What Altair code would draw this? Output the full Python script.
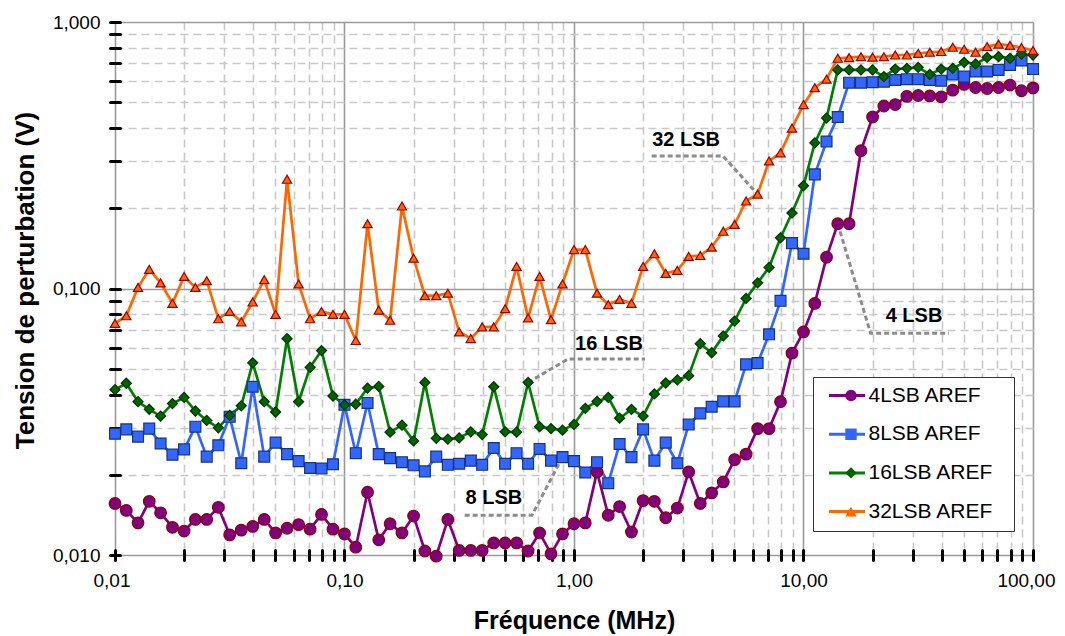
import altair as alt
import pandas as pd

FONT = "Liberation Sans"

series_names = ["4LSB AREF", "8LSB AREF", "16LSB AREF", "32LSB AREF"]
line_colors = ["#800080", "#3366FF", "#008000", "#FF6600"]
fill_colors = ["#800080", "#3366FF", "#006400", "#FF6600"]
edge_colors = ["#8B0000", "#17357a", "#003300", "#990000"]
shapes = ["circle", "square", "diamond", "triangle-up"]
sizes = [135, 85, 130, 140]

# separate keys so that each guide keeps its own legend
line_keys = [n + "\u200b" for n in series_names]
size_keys = ["m4", "m8", "m16", "m32"]

# 20 measurement points per decade
mantissas = [1.00, 1.12, 1.26, 1.41, 1.58, 1.78, 2.00, 2.24, 2.51, 2.82,
             3.16, 3.55, 3.98, 4.47, 5.01, 5.62, 6.31, 7.08, 7.94, 8.91]
decades = [0.01, 0.1, 1, 10]
freq = [round(m * d, 6) for d in decades for m in mantissas] + [100.0]

v4 = [0.0156, 0.0147, 0.0132, 0.0159, 0.0144, 0.0127, 0.0123, 0.0136, 0.0136, 0.0151,
      0.0119, 0.0124, 0.0128, 0.0136, 0.0121, 0.0126, 0.0130, 0.0125, 0.0142, 0.0125,
      0.0120, 0.0107, 0.0172, 0.0114, 0.0131, 0.0121, 0.0140, 0.01035, 0.0099, 0.0136,
      0.0104, 0.0104, 0.0104, 0.0111, 0.0111, 0.0111, 0.01035, 0.0121, 0.0101, 0.0120,
      0.0131, 0.0132, 0.0205, 0.0141, 0.0152, 0.0122, 0.0160, 0.0159, 0.0138, 0.0150,
      0.0205, 0.0156, 0.0171, 0.0188, 0.0228, 0.0239, 0.0298, 0.0298, 0.0376, 0.0572,
      0.0687, 0.0879, 0.131, 0.175, 0.175, 0.329, 0.440, 0.484, 0.490, 0.526,
      0.530, 0.528, 0.524, 0.555, 0.583, 0.568, 0.563, 0.568, 0.580, 0.552, 0.566]

v8 = [0.0285, 0.0296, 0.0278, 0.0298, 0.0262, 0.0238, 0.0249, 0.0303, 0.0234, 0.0258,
      0.0330, 0.0221, 0.0428, 0.0234, 0.0264, 0.0239, 0.0225, 0.0212, 0.0211, 0.0219,
      0.0366, 0.0241, 0.0372, 0.0239, 0.0231, 0.0223, 0.0217, 0.0206, 0.0234, 0.0218,
      0.0220, 0.0226, 0.0218, 0.0252, 0.0220, 0.0241, 0.0220, 0.0250, 0.0226, 0.0233,
      0.0225, 0.0204, 0.0223, 0.0186, 0.0261, 0.0233, 0.0296, 0.0226, 0.0264, 0.0221,
      0.0309, 0.0340, 0.0360, 0.0377, 0.0377, 0.0519, 0.0525, 0.0673, 0.0899, 0.148,
      0.135, 0.268, 0.356, 0.440, 0.592, 0.592, 0.594, 0.597, 0.606, 0.610,
      0.610, 0.606, 0.602, 0.636, 0.624, 0.652, 0.652, 0.661, 0.690, 0.717, 0.666]

v16 = [0.0417, 0.0441, 0.0376, 0.0352, 0.0332, 0.0370, 0.0390, 0.0347, 0.0320, 0.0300,
       0.0334, 0.0363, 0.0526, 0.0376, 0.0344, 0.0648, 0.0376, 0.0506, 0.0585, 0.0395,
       0.0366, 0.0368, 0.0423, 0.0429, 0.0289, 0.0307, 0.0268, 0.0444, 0.0274, 0.0272,
       0.0275, 0.0290, 0.0283, 0.0428, 0.0290, 0.0289, 0.0444, 0.0303, 0.0298, 0.0294,
       0.0309, 0.0355, 0.0377, 0.0390, 0.0326, 0.0352, 0.0332, 0.0402, 0.0442, 0.0454,
       0.0471, 0.0621, 0.0574, 0.0664, 0.0755, 0.0918, 0.105, 0.120, 0.155, 0.192,
       0.243, 0.352, 0.436, 0.661, 0.661, 0.661, 0.661, 0.624, 0.666, 0.670,
       0.676, 0.636, 0.666, 0.670, 0.706, 0.696, 0.736, 0.741, 0.731, 0.757, 0.752]

v32 = [0.074, 0.079, 0.101, 0.118, 0.105, 0.088, 0.111, 0.101, 0.107, 0.077,
       0.082, 0.075, 0.089, 0.108, 0.080, 0.257, 0.104, 0.077, 0.082, 0.080,
       0.080, 0.0638, 0.175, 0.083, 0.076, 0.204, 0.130, 0.094, 0.094, 0.096,
       0.0687, 0.0649, 0.0718, 0.0718, 0.084, 0.121, 0.0776, 0.111, 0.0764, 0.104,
       0.140, 0.140, 0.096, 0.087, 0.091, 0.088, 0.121, 0.135, 0.114, 0.117,
       0.132, 0.133, 0.143, 0.164, 0.174, 0.213, 0.226, 0.301, 0.323, 0.400,
       0.490, 0.567, 0.610, 0.731, 0.735, 0.741, 0.738, 0.741, 0.752, 0.752,
       0.763, 0.770, 0.775, 0.804, 0.790, 0.770, 0.809, 0.826, 0.817, 0.802, 0.782]

# annotation labels and their dashed leader lines (data coordinates)
ann_labels = ["32 LSB", "16 LSB", "8 LSB", "4 LSB"]
ann_x = [3.08, 1.42, 0.448, 30.3]
ann_y = [0.361, 0.0619, 0.01637, 0.0788]
conn_group = ["32", "32", "32", "16", "16", "16", "8", "8", "8", "4", "4", "4"]
conn_x = [2.18, 4.46, 6.31, 0.631, 0.942, 2.04, 0.891, 0.656, 0.328, 14.1, 19.6, 43.0]
conn_y = [0.314, 0.314, 0.226, 0.0444, 0.0544, 0.0544, 0.0233, 0.0141, 0.0141, 0.175, 0.0679, 0.0679]

x_ticks = [round(m * d, 6) for d in [0.01, 0.1, 1, 10] for m in range(1, 10)] + [100.0]
y_ticks = [round(m * d, 6) for d in [0.01, 0.1] for m in range(1, 10)] + [1.0]

rows = []
for name, lk, sk, vals in zip(series_names, line_keys, size_keys, [v4, v8, v16, v32]):
    for f, v in zip(freq, vals):
        rows.append({"f": f, "v": v, "s": name, "k": lk, "z": sk})
df = pd.DataFrame(rows)

ann_df = pd.DataFrame({"f": ann_x, "v": ann_y, "t": ann_labels})
conn_df = pd.DataFrame({"f": conn_x, "v": conn_y, "g": conn_group,
                        "o": list(range(len(conn_x)))})

DEC = "abs(log(datum.value)/LN10 - round(log(datum.value)/LN10)) < 1e-6"

xscale = alt.Scale(type="log", domain=[0.01, 100], nice=False)
yscale = alt.Scale(type="log", domain=[0.01, 1], nice=False)

# axes sit 5px inside the frame with 10px ticks so that ticks cross the frame line
x_main = alt.Axis(
    orient="bottom", values=x_ticks, offset=-5,
    labelExpr=f"({DEC}) ? replace(format(datum.value, '.2f'), '.', ',') : ''",
    labelFont=FONT, labelFontSize=19, labelColor="black", labelPadding=11,
    labelOverlap=False, labelBound=False, labelFlush=True, labelFlushOffset=22,
    tickSize=10, tickWidth=3, tickColor="black", tickCap="round",
    domain=False, grid=True,
    gridColor={"condition": {"test": DEC, "value": "#9a9a9a"}, "value": "#c8c8c8"},
    gridDash={"condition": {"test": DEC, "value": []}, "value": [8, 5]},
    gridWidth=1.6,
    title="Fréquence (MHz)", titleFont=FONT, titleFontSize=25, titleFontWeight="bold",
    titleColor="black", titleX=459, titleY=78, titleAlign="center",
    titleBaseline="alphabetic",
)
y_main = alt.Axis(
    orient="left", values=y_ticks, offset=-5,
    labelExpr=f"({DEC}) ? replace(format(datum.value, '.3f'), '.', ',') : ''",
    labelFont=FONT, labelFontSize=19, labelColor="black", labelPadding=10,
    labelOverlap=False, labelBound=False,
    tickSize=10, tickWidth=3, tickColor="black", tickCap="round",
    domain=False, grid=True,
    gridColor={"condition": {"test": DEC, "value": "#9a9a9a"}, "value": "#c8c8c8"},
    gridDash={"condition": {"test": DEC, "value": []}, "value": [8, 5]},
    gridWidth=1.6,
    title="Tension de perturbation (V)", titleFont=FONT, titleFontSize=26,
    titleFontWeight="bold", titleColor="black", titleX=-95, titleY=258,
    titleAngle=270, titleAlign="center", titleBaseline="middle",
)

LEG_X, LEG_Y = 698, 355
# line swatches (no labels, framed box) underneath the marker legend
line_legend = alt.Legend(
    orient="none", legendX=LEG_X, legendY=LEG_Y, title=None, zindex=1,
    labelFont=FONT, labelFontSize=21, labelColor="black", labelExpr="''",
    padding=8, rowPadding=16.7, clipHeight=21,
    symbolType="stroke", symbolSize=1296, symbolStrokeWidth=3,
    symbolOffset=6.5, labelOffset=139,
    fillColor="white", strokeColor="#333333",
)
pt_legend = alt.Legend(
    orient="none", legendX=LEG_X, legendY=LEG_Y, title=None, zindex=2,
    labelFont=FONT, labelFontSize=21, labelColor="black",
    padding=8, rowPadding=16.7, clipHeight=21,
    symbolSize=130, symbolStrokeWidth=1.2, symbolStrokeColor="#4a0000",
    symbolOffset=19.5, labelOffset=7,
)

lines = alt.Chart(df).mark_line(strokeWidth=2.7).encode(
    x=alt.X("f:Q", scale=xscale, axis=x_main),
    y=alt.Y("v:Q", scale=yscale, axis=y_main),
    stroke=alt.Stroke("k:N", scale=alt.Scale(domain=line_keys, range=line_colors),
                      legend=line_legend),
    order=alt.Order("f:Q"),
)

points = alt.Chart(df).mark_point(filled=True, opacity=1, strokeWidth=1.2).encode(
    x=alt.X("f:Q", scale=xscale),
    y=alt.Y("v:Q", scale=yscale),
    fill=alt.Fill("s:N", scale=alt.Scale(domain=series_names, range=fill_colors),
                  legend=pt_legend),
    shape=alt.Shape("s:N", scale=alt.Scale(domain=series_names, range=shapes),
                    legend=pt_legend),
    stroke=alt.Stroke("s:N", scale=alt.Scale(domain=series_names, range=edge_colors),
                      legend=None),
    size=alt.Size("z:N", scale=alt.Scale(domain=size_keys, range=sizes), legend=None),
)

connectors = alt.Chart(conn_df).mark_line(color="#8c8c8c", strokeWidth=3,
                                          strokeDash=[5, 3]).encode(
    x=alt.X("f:Q", scale=xscale),
    y=alt.Y("v:Q", scale=yscale),
    detail="g:N",
    order=alt.Order("o:Q"),
)

texts = alt.Chart(ann_df).mark_text(font=FONT, fontSize=20, fontWeight="bold",
                                    color="black").encode(
    x=alt.X("f:Q", scale=xscale),
    y=alt.Y("v:Q", scale=yscale),
    text="t:N",
)

chart = alt.layer(lines, connectors, points, texts).resolve_scale(
    stroke="independent"
).properties(
    width=918, height=533,
    autosize=alt.AutoSizeParams(type="none"),
    padding={"left": 107, "top": 14, "right": 24, "bottom": 80},
).configure_view(stroke="black", strokeWidth=3).configure(background="white")

chart.save("out.html", embed_options={"renderer": "svg", "actions": False})
